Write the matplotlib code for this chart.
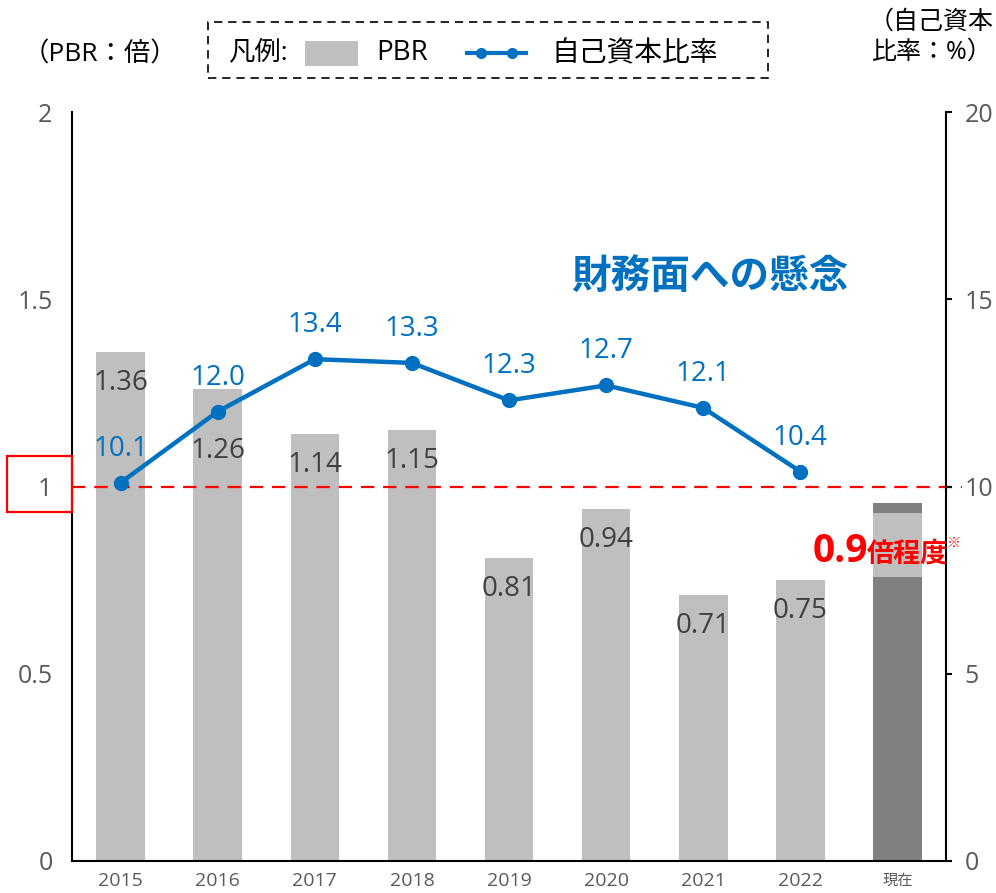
import numpy as np
import matplotlib
matplotlib.use('Agg')
import matplotlib.pyplot as plt
from matplotlib.patches import Rectangle
from matplotlib.lines import Line2D

plt.rcParams['font.family'] = ['Open Sans', 'Noto Sans CJK JP', 'DejaVu Sans']

# ---------------- data ----------------
categories = ['2015', '2016', '2017', '2018', '2019', '2020', '2021', '2022', '現在']
pbr = [1.36, 1.26, 1.14, 1.15, 0.81, 0.94, 0.71, 0.75, 0.955]
pbr_labels = ['1.36', '1.26', '1.14', '1.15', '0.81', '0.94', '0.71', '0.75', '']
equity_ratio = [10.1, 12.0, 13.4, 13.3, 12.3, 12.7, 12.1, 10.4]
equity_labels = ['10.1', '12.0', '13.4', '13.3', '12.3', '12.7', '12.1', '10.4']
left_ticks = [0, 0.5, 1, 1.5, 2]
left_tick_labels = ['0', '0.5', '1', '1.5', '2']
right_ticks = [0, 5, 10, 15, 20]
right_tick_labels = ['0', '5', '10', '15', '20']
pbr_threshold = 1
current_note_value = '0.9'

# ---------------- styles ----------------
BAR = '#BFBFBF'
BAR_NOW = '#808080'
BLUE = '#0070C0'
GRAY_TXT = '#595959'
LABEL_TXT = '#404040'
RED = '#FF0000'
CJK = ['Noto Sans CJK JP', 'DejaVu Sans']

W, H = 996, 893
fig = plt.figure(figsize=(W / 100, H / 100), dpi=100)


def fx(px):
    return px / W


def fy(py):
    return 1 - py / H


ax = fig.add_axes([fx(72), fy(861), fx(946) - fx(72), fy(112) - fy(861)])
x = np.arange(len(categories))
colors = [BAR] * (len(categories) - 1) + [BAR_NOW]
ax.bar(x, pbr, width=0.5, color=colors, zorder=2)
ax.set_xlim(-0.5, len(categories) - 0.5)
ax.set_ylim(0, 2)
ax.set_yticks(left_ticks)
ax.set_yticklabels(left_tick_labels)
ax.set_xticks(x)
ax.set_xticklabels(categories)
for lab in ax.get_xticklabels():
    lab.set_fontsize(14)
    lab.set_color(GRAY_TXT)
ax.get_xticklabels()[-1].set_fontsize(11)
ax.get_xticklabels()[-1].set_family(CJK)
ax.tick_params(axis='y', length=0, labelsize=18, labelcolor=GRAY_TXT, pad=14)
ax.tick_params(axis='x', length=0, pad=8)
for s in ['top', 'right']:
    ax.spines[s].set_visible(False)
for s in ['left', 'bottom']:
    ax.spines[s].set_linewidth(1.5)
    ax.spines[s].set_color('black')

# bar value labels (inside bars, below top)
px2pt = 72 / 100
for i, (v, lab) in enumerate(zip(pbr, pbr_labels)):
    if not lab:
        continue
    off = 62 if i == 1 else 31
    ax.annotate(lab, (i, v), xytext=(0, -off * px2pt), textcoords='offset points',
                ha='center', va='center', fontsize=20, color=LABEL_TXT, zorder=4)

# threshold line
ax.axhline(pbr_threshold, xmin=0, xmax=1.018, color=RED, lw=1.6,
           ls=(0, (6, 4)), clip_on=False, zorder=3)

# translucent overlay on current bar
ax.add_patch(Rectangle((len(categories) - 1 - 0.28, 0.758), 0.78, 0.171,
                       facecolor='white', alpha=0.5, edgecolor='none', zorder=3))

# right axis
ax2 = ax.twinx()
ax2.set_ylim(0, 20)
ax2.set_yticks(right_ticks)
ax2.set_yticklabels(right_tick_labels)
ax2.tick_params(axis='y', length=4.5, width=1.5, labelsize=18, labelcolor=GRAY_TXT, pad=9)
for s in ['top', 'left', 'bottom']:
    ax2.spines[s].set_visible(False)
ax2.spines['right'].set_linewidth(1.5)
ax2.spines['right'].set_color('black')

xl = np.arange(len(equity_ratio))
ax2.plot(xl, equity_ratio, color=BLUE, lw=3.2, marker='o', markersize=10, zorder=5)
for i, (v, lab) in enumerate(zip(equity_ratio, equity_labels)):
    ax2.annotate(lab, (i, v), xytext=(0, 34 * px2pt), textcoords='offset points',
                 ha='center', va='center', fontsize=20, color=BLUE, zorder=6)

# texts
fig.text(fx(710), fy(277), '財務面への懸念', ha='center', va='center', fontsize=28.5,
         fontweight='bold', color=BLUE, family=CJK)
fig.text(fx(868), fy(562), current_note_value, ha='right', va='baseline', fontsize=28,
         fontweight='bold', color=RED)
fig.text(fx(867), fy(562), '倍程度', ha='left', va='baseline', fontsize=19.5,
         fontweight='bold', color=RED, family=CJK)
fig.text(fx(947), fy(543), '※', ha='left', va='center', fontsize=10,
         fontweight='bold', color=RED, family=CJK)

# axis titles
fig.text(fx(100), fy(55), '（PBR：倍）', ha='center', va='center', fontsize=19)
fig.text(fx(931), fy(37), '（自己資本\n比率：%）', ha='center', va='center', fontsize=18,
         linespacing=1.25)

# red box around "1"
fig.patches.append(Rectangle((fx(7), fy(512)), fx(72) - fx(7), fy(456) - fy(512),
                             transform=fig.transFigure, fill=False, edgecolor=RED, lw=1.6))

# legend (dashed box)
fig.patches.append(Rectangle((fx(208), fy(78)), fx(768) - fx(208), fy(22) - fy(78),
                             transform=fig.transFigure, fill=False, edgecolor='black',
                             lw=1.2, ls=(0, (5, 3.5))))
fig.text(fx(228), fy(53), '凡例:', ha='left', va='center', fontsize=19)
fig.patches.append(Rectangle((fx(305), fy(66)), fx(358) - fx(305), fy(41) - fy(66),
                             transform=fig.transFigure, facecolor=BAR, edgecolor='none'))
fig.text(fx(376), fy(53), 'PBR', ha='left', va='center', fontsize=20)
fig.lines.append(Line2D([fx(467), fx(526)], [fy(53), fy(53)], transform=fig.transFigure,
                        color=BLUE, lw=3))
fig.lines.append(Line2D([fx(481), fx(512)], [fy(53), fy(53)], transform=fig.transFigure,
                        color=BLUE, lw=0, marker='o', markersize=7))
fig.text(fx(551), fy(53), '自己資本比率', ha='left', va='center', fontsize=20, family=CJK)

fig.savefig('out.png', dpi=100, facecolor='white')
